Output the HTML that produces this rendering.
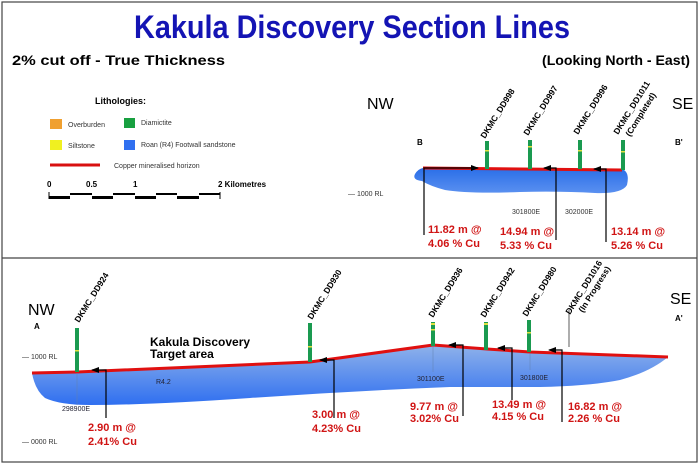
<!DOCTYPE html>
<html><head><meta charset="utf-8"><style>
html,body{margin:0;padding:0;background:#fff;}
svg{display:block;font-family:"Liberation Sans",Arial,sans-serif;}
</style></head><body>
<svg width="700" height="464" viewBox="0 0 700 464" xmlns="http://www.w3.org/2000/svg">
<defs>
<linearGradient id="gb" x1="0" y1="0" x2="0" y2="1">
<stop offset="0" stop-color="#8fb2ea"/><stop offset="1" stop-color="#2f6ff0"/>
</linearGradient>
<linearGradient id="gt" x1="0" y1="0" x2="0" y2="1">
<stop offset="0" stop-color="#2a6ee8"/><stop offset="1" stop-color="#5a90f0"/>
</linearGradient>
<marker id="ar" markerWidth="8" markerHeight="6" refX="7" refY="3" orient="auto" markerUnits="userSpaceOnUse">
<path d="M0,0 L8,3 L0,6 Z" fill="#000"/></marker>
</defs>
<rect x="2" y="2" width="695" height="460" fill="#fff" stroke="#444" stroke-width="1.2"/>
<line x1="2" y1="258" x2="697" y2="258" stroke="#444" stroke-width="1.2"/>

<text x="352" y="38" text-anchor="middle" font-size="32" font-weight="bold" fill="#1414b4" textLength="436" lengthAdjust="spacingAndGlyphs">Kakula Discovery Section Lines</text>
<text x="12" y="65" font-size="14" font-weight="bold" textLength="213" lengthAdjust="spacingAndGlyphs">2% cut off - True Thickness</text>
<text x="542" y="65" font-size="14" font-weight="bold" textLength="148" lengthAdjust="spacingAndGlyphs">(Looking North - East)</text>

<!-- legend -->
<text x="95" y="104" font-size="9" font-weight="bold">Lithologies:</text>
<rect x="50" y="119" width="12" height="10" fill="#f0a030"/>
<text x="68" y="127" font-size="7" fill="#333">Overburden</text>
<rect x="124" y="118" width="11" height="10" fill="#18a040"/>
<text x="141" y="125" font-size="7" fill="#333">Diamictite</text>
<rect x="50" y="140" width="12" height="10" fill="#f0f020"/>
<text x="68" y="148" font-size="7" fill="#333">Siltstone</text>
<rect x="124" y="140" width="11" height="10" fill="#3070f0"/>
<text x="141" y="147" font-size="7" fill="#333">Roan (R4) Footwall sandstone</text>
<line x1="50" y1="165" x2="100" y2="165" stroke="#d81010" stroke-width="3"/>
<text x="114" y="168" font-size="7" fill="#333">Copper mineralised horizon</text>
<g font-size="8" font-weight="bold">
<text x="47" y="187">0</text><text x="86" y="187">0.5</text><text x="133" y="187">1</text><text x="218" y="187">2 Kilometres</text>
</g>
<line x1="49" y1="192" x2="49" y2="199" stroke="#000"/>
<line x1="220" y1="192" x2="220" y2="199" stroke="#000"/>
<g fill="#000">
<rect x="49" y="196" width="21" height="3"/><rect x="70" y="193" width="22" height="2"/>
<rect x="92" y="196" width="21" height="3"/><rect x="113" y="193" width="22" height="2"/>
<rect x="135" y="196" width="21" height="3"/><rect x="156" y="193" width="21" height="2"/>
<rect x="177" y="196" width="22" height="3"/><rect x="199" y="193" width="21" height="2"/>
</g>

<!-- top section -->
<text x="367" y="109" font-size="16">NW</text>
<text x="672" y="109" font-size="16">SE</text>
<text x="417" y="145" font-size="8" font-weight="bold">B</text>
<text x="675" y="145" font-size="8" font-weight="bold">B'</text>
<text x="348" y="196" font-size="7" fill="#333">— 1000 RL</text>
<path d="M423,168 L622,169 Q630,172 627,185 Q622,194 595,193 Q560,191 520,192 Q470,194 445,190 Q430,186 422,181 Q412,180 415,174 Q418,169 423,168 Z" fill="url(#gt)"/>
<line x1="423" y1="168" x2="622" y2="170" stroke="#e01010" stroke-width="3"/>
<g stroke="#1a9a50" stroke-width="4">
<line x1="487" y1="141" x2="487" y2="169"/><line x1="530" y1="140" x2="530" y2="169"/>
<line x1="580" y1="140" x2="580" y2="169"/><line x1="623" y1="140" x2="623" y2="170"/>
</g>
<g stroke="#dde040" stroke-width="4"><line x1="487" y1="150" x2="487" y2="151.5"/><line x1="530" y1="146" x2="530" y2="147.5"/><line x1="580" y1="150" x2="580" y2="151.5"/><line x1="623" y1="151" x2="623" y2="152.5"/></g>
<g font-size="8.5" font-weight="bold">
<text transform="translate(485,139) rotate(-58)">DKMC_DD998</text>
<text transform="translate(528,136) rotate(-58)">DKMC_DD997</text>
<text transform="translate(578,135) rotate(-58)">DKMC_DD996</text>
<text transform="translate(618,135) rotate(-58)">DKMC_DD1011</text>
<text transform="translate(630,137) rotate(-58)">(Completed)</text>
</g>
<g stroke="#000" stroke-width="1.2" fill="none">
<polyline points="424,235 424,168 478,168" marker-end="url(#ar)"/>
<polyline points="556,240 556,168 544,168" marker-end="url(#ar)"/>
<polyline points="606,242 606,169 594,169" marker-end="url(#ar)"/>
</g>
<g font-size="7" fill="#333"><text x="512" y="214">301800E</text><text x="565" y="214">302000E</text></g>
<g font-size="11" font-weight="bold" fill="#d01414">
<text x="428" y="233">11.82 m @</text><text x="428" y="247">4.06 % Cu</text>
<text x="500" y="235">14.94 m @</text><text x="500" y="249">5.33 % Cu</text>
<text x="611" y="235">13.14 m @</text><text x="611" y="249">5.26 % Cu</text>
</g>

<!-- bottom section -->
<text x="28" y="315" font-size="16">NW</text>
<text x="34" y="329" font-size="8" font-weight="bold">A</text>
<text x="670" y="304" font-size="16">SE</text>
<text x="675" y="321" font-size="8" font-weight="bold">A'</text>
<text x="22" y="359" font-size="7" fill="#333">— 1000 RL</text>
<text x="22" y="444" font-size="7" fill="#333">— 0000 RL</text>
<path d="M32,373 L77,372 L310,362 L433,345 L487,349 L530,352 L668,357 Q650,372 620,380 Q590,386 540,387 L450,387 Q350,391 250,398 Q150,405 90,405 Q60,405 45,398 Q35,390 32,373 Z" fill="url(#gb)"/>
<polyline points="32,373 77,372 310,362 433,345 487,349 530,352 668,357" fill="none" stroke="#e01010" stroke-width="3"/>
<g stroke="#6080b0" stroke-width="0.5"><line x1="77" y1="373" x2="77" y2="405"/><line x1="433" y1="346" x2="433" y2="372"/><line x1="530" y1="353" x2="530" y2="370"/></g>
<g stroke="#1a9a50" stroke-width="4">
<line x1="77" y1="328" x2="77" y2="372"/><line x1="310" y1="323" x2="310" y2="362"/>
<line x1="433" y1="322" x2="433" y2="346"/><line x1="486" y1="322" x2="486" y2="350"/>
<line x1="529" y1="320" x2="529" y2="352"/>
</g>
<g stroke="#dde040" stroke-width="4"><line x1="77" y1="350" x2="77" y2="351.5"/><line x1="310" y1="346" x2="310" y2="347.5"/><line x1="433" y1="323" x2="433" y2="325"/><line x1="433" y1="329" x2="433" y2="330.5"/><line x1="486" y1="323" x2="486" y2="325"/><line x1="529" y1="332" x2="529" y2="333.5"/></g>
<line x1="569" y1="310" x2="569" y2="347" stroke="#333" stroke-width="0.8"/>
<g font-size="8.5" font-weight="bold">
<text transform="translate(79,323) rotate(-58)">DKMC_DD924</text>
<text transform="translate(312,320) rotate(-58)">DKMC_DD930</text>
<text transform="translate(433,318) rotate(-58)">DKMC_DD936</text>
<text transform="translate(485,318) rotate(-58)">DKMC_DD942</text>
<text transform="translate(527,317) rotate(-58)">DKMC_DD980</text>
<text transform="translate(570,315) rotate(-58)">DKMC_DD1016</text>
<text transform="translate(583,313) rotate(-58)">(In Progress)</text>
</g>
<g stroke="#000" stroke-width="1.2" fill="none">
<polyline points="106,418 106,370 92,370" marker-end="url(#ar)"/>
<polyline points="334,418 334,360 320,360" marker-end="url(#ar)"/>
<polyline points="463,416 463,345 449,345" marker-end="url(#ar)"/>
<polyline points="512,400 512,348 498,348" marker-end="url(#ar)"/>
<polyline points="562,422 562,350 549,350" marker-end="url(#ar)"/>
</g>
<text x="150" y="346" font-size="12" font-weight="bold">Kakula Discovery</text>
<text x="150" y="358" font-size="12" font-weight="bold">Target area</text>
<g font-size="7" fill="#223"><text x="156" y="384">R4.2</text><text x="62" y="411">298900E</text><text x="417" y="381">301100E</text><text x="520" y="380">301800E</text></g>
<g font-size="11" font-weight="bold" fill="#d01414">
<text x="88" y="431">2.90 m @</text><text x="88" y="445">2.41% Cu</text>
<text x="312" y="418">3.00 m @</text><text x="312" y="432">4.23% Cu</text>
<text x="410" y="410">9.77 m @</text><text x="410" y="422">3.02% Cu</text>
<text x="492" y="408">13.49 m @</text><text x="492" y="420">4.15 % Cu</text>
<text x="568" y="410">16.82 m @</text><text x="568" y="422">2.26 % Cu</text>
</g>
</svg>
</body></html>
